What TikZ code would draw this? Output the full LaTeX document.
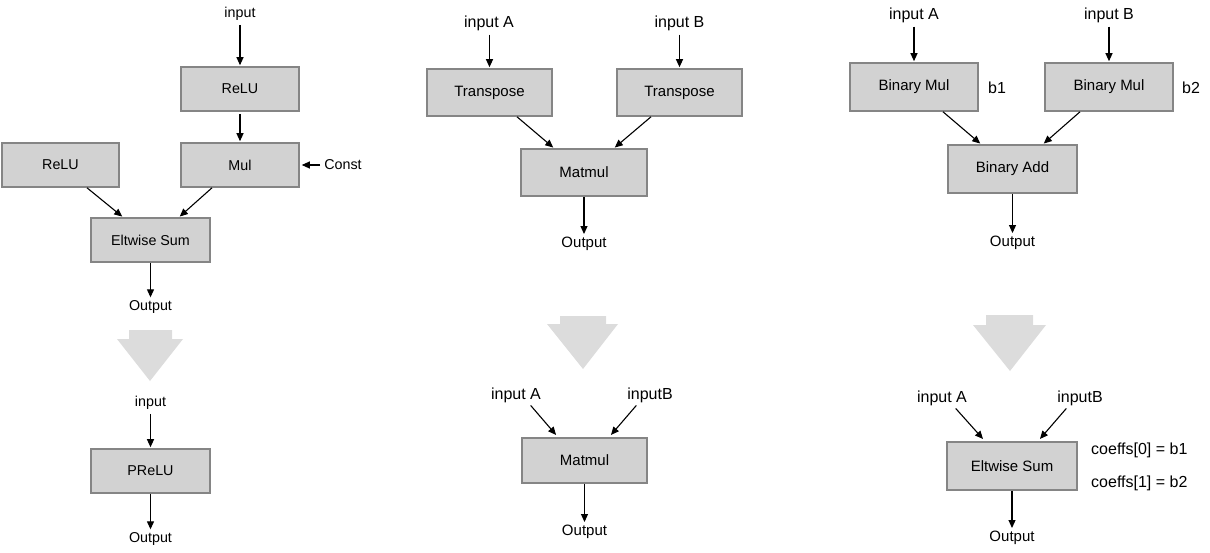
\documentclass[tikz,border=0pt]{standalone}
\usepackage{fontspec}
\setmainfont{Liberation Sans}
\usetikzlibrary{arrows.meta}
\definecolor{boxfill}{HTML}{D2D2D2}
\definecolor{boxline}{HTML}{858585}
\definecolor{bigarrow}{HTML}{DCDCDC}
\tikzset{
  opbox/.style={draw=boxline, fill=boxfill, line width=1.6pt, inner sep=0pt},
  fsA/.style={font=\fontsize{14.3}{16}\selectfont},
  fsB/.style={font=\fontsize{15}{17}\selectfont},
  fsC/.style={font=\fontsize{16}{18}\selectfont},
  lbl/.style={inner sep=2pt},
  conn/.style={line width=1.1pt, -{Triangle[length=8pt,width=7pt]}, shorten <=2pt, shorten >=1pt},
  flowarrow/.style={fill=bigarrow, draw=none}
}
\begin{document}
\begin{tikzpicture}[x=1pt,y=-1pt]
\useasboundingbox (0,0) rectangle (1210,552);
% ---------------- Left panel ----------------
\node[lbl,fsA] (inL) at (240,14) {input};
\node[opbox,fsA,minimum width=118pt,minimum height=44pt] (reluA) at (240,89) {ReLU};
\node[opbox,fsA,minimum width=118pt,minimum height=44pt] (mul) at (240,165) {Mul};
\node[opbox,fsA,minimum width=117pt,minimum height=44pt] (reluB) at (60.5,165) {ReLU};
\node[lbl,fsA] (const) at (343,165) {Const};
\node[opbox,fsA,minimum width=119pt,minimum height=44pt] (elt) at (150.5,240) {Eltwise Sum};
\node[lbl,fsA] (outL) at (150.5,307) {Output};
\draw[conn] (inL) -- (reluA);
\draw[conn] (reluA) -- (mul);
\draw[conn] (const) -- ([xshift=1pt]mul.east);
\draw[conn,shorten <=0pt] ([xshift=26.5pt]reluB.south) -- ([xshift=-27.5pt]elt.north);
\draw[conn,shorten <=0pt] ([xshift=-28pt]mul.south) -- ([xshift=28.5pt]elt.north);
\draw[conn,shorten <=0pt] (elt.south) -- (elt.south |- outL.north);
\fill[flowarrow] (129,330) -- (172,330) -- (172,339) -- (183,339) -- (150,381) -- (117,339) -- (129,339) -- cycle;
\node[lbl,fsA] (inL2) at (150.5,403) {input};
\node[opbox,fsA,minimum width=119pt,minimum height=44pt] (prelu) at (150.5,471) {PReLU};
\node[lbl,fsA] (outL2) at (150.5,539) {Output};
\draw[conn] (inL2.south) -- (prelu.north);
\draw[conn,shorten <=0pt] (prelu.south) -- (prelu.south |- outL2.north);
% ---------------- Middle panel ----------------
\node[lbl,fsC] (inA) at (489,23) {input A};
\node[lbl,fsC] (inB) at (679.5,23) {input B};
\node[opbox,fsB,minimum width=125pt,minimum height=47pt] (trA) at (489.5,92.5) {Transpose};
\node[opbox,fsB,minimum width=125pt,minimum height=47pt] (trB) at (679.5,92.5) {Transpose};
\node[opbox,fsB,minimum width=126pt,minimum height=47pt] (mm) at (584,172.5) {Matmul};
\node[lbl,fsB] (outM) at (584,244) {Output};
\draw[conn] (trA.north |- inA.south) -- (trA.north);
\draw[conn] (inB.south) -- (trB.north);
\draw[conn,shorten <=0pt] ([xshift=27.5pt]trA.south) -- ([xshift=-30pt]mm.north);
\draw[conn,shorten <=0pt] ([xshift=-28.5pt]trB.south) -- ([xshift=30pt]mm.north);
\draw[conn,shorten <=0pt] (mm.south) -- (mm.south |- outM.north);
\fill[flowarrow] (560,316) -- (606,316) -- (606,324) -- (618,324) -- (583,369) -- (547,324) -- (560,324) -- cycle;
\node[lbl,fsC] (inA2) at (516,395) {input A};
\node[lbl,fsC] (inB2) at (650,395) {inputB};
\node[opbox,fsB,minimum width=125pt,minimum height=45pt] (mm2) at (584.5,460.5) {Matmul};
\node[lbl,fsB] (outM2) at (584.5,532) {Output};
\draw[conn,shorten <=1pt,shorten >=3pt] ([xshift=14pt]inA2.south) -- ([xshift=-26.5pt]mm2.north);
\draw[conn,shorten <=1pt,shorten >=3pt] ([xshift=-13pt]inB2.south) -- ([xshift=24.5pt]mm2.north);
\draw[conn,shorten <=0pt] (mm2.south) -- (mm2.south |- outM2.north);
% ---------------- Right panel ----------------
\node[lbl,fsC] (inA3) at (914,15) {input A};
\node[lbl,fsC] (inB3) at (1109,15) {input B};
\node[opbox,fsB,minimum width=128pt,minimum height=48pt] (bm1) at (914,87) {Binary Mul};
\node[opbox,fsB,minimum width=128pt,minimum height=48pt] (bm2) at (1109,87) {Binary Mul};
\node[lbl,fsC] (b1) at (997,88) {b1};
\node[lbl,fsC] (b2) at (1191,88) {b2};
\node[opbox,fsB,minimum width=129pt,minimum height=48pt] (ba) at (1012.5,169) {Binary Add};
\node[lbl,fsB] (outR) at (1012.5,243) {Output};
\draw[conn] (inA3.south) -- (bm1.north);
\draw[conn] (inB3.south) -- (bm2.north);
\draw[conn,shorten <=0pt] ([xshift=29pt]bm1.south) -- ([xshift=-31.5pt]ba.north);
\draw[conn,shorten <=0pt] ([xshift=-29pt]bm2.south) -- ([xshift=30.5pt]ba.north);
\draw[conn,shorten <=0pt] (ba.south) -- (ba.south |- outR.north);
\fill[flowarrow] (986,315) -- (1033,315) -- (1033,325) -- (1046,325) -- (1010,371) -- (973,325) -- (986,325) -- cycle;
\node[lbl,fsC] (inA4) at (942,398) {input A};
\node[lbl,fsC] (inB4) at (1080,398) {inputB};
\node[opbox,fsB,minimum width=130pt,minimum height=48pt] (es) at (1012,466) {Eltwise Sum};
\node[lbl,fsC,anchor=west] (c0) at (1089,450) {coeffs[0] = b1};
\node[lbl,fsC,anchor=west] (c1) at (1089,483) {coeffs[1] = b2};
\node[lbl,fsB] (outR2) at (1012,538) {Output};
\draw[conn,shorten <=1pt,shorten >=3pt] ([xshift=13pt]inA4.south) -- ([xshift=-27pt]es.north);
\draw[conn,shorten <=1pt,shorten >=3pt] ([xshift=-13pt]inB4.south) -- ([xshift=26pt]es.north);
\draw[conn,shorten <=0pt] (es.south) -- (es.south |- outR2.north);
\end{tikzpicture}
\end{document}
